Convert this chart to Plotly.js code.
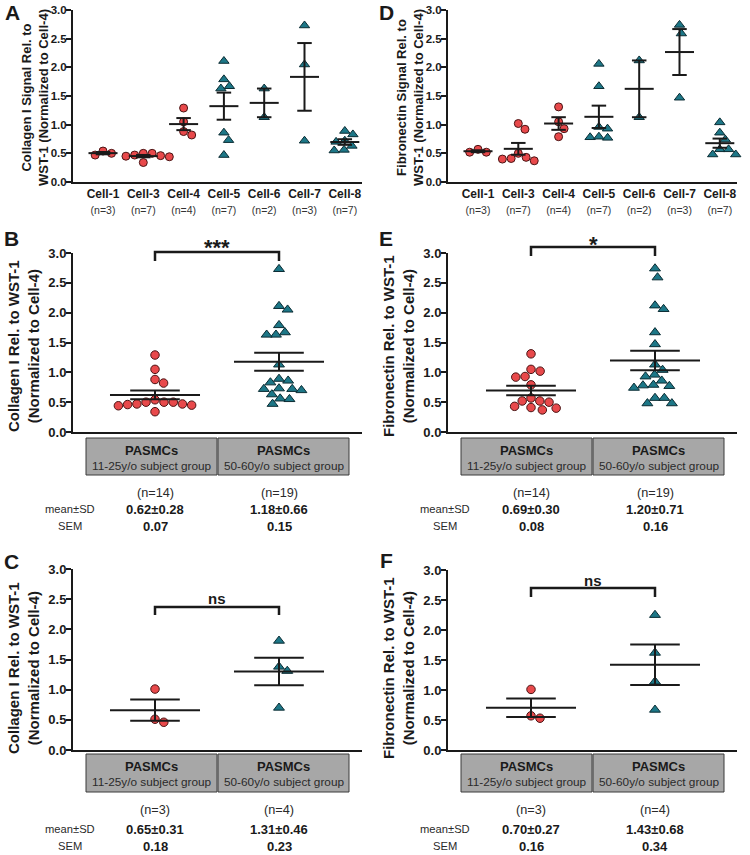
<!DOCTYPE html>
<html><head><meta charset="utf-8">
<script src="https://cdn.plot.ly/plotly-3.0.1.min.js"></script>
<style>body{margin:0;background:#fff}#chart{width:750px;height:855px}</style>
</head><body><div id="chart"></div>
<script>
// ---------------- DATA ----------------
const cellLabels = ['Cell-1','Cell-3','Cell-4','Cell-5','Cell-6','Cell-7','Cell-8'];
const cellN = ['(n=3)','(n=7)','(n=4)','(n=7)','(n=2)','(n=3)','(n=7)'];
const youngCount = 3; // Cell-1, Cell-3, Cell-4 -> 11-25y/o group
// Collagen I (panel A)
const colCell1 = [0.54, 0.47, 0.50];
const colCell3 = [0.50, 0.47, 0.34, 0.44, 0.46, 0.50, 0.45];
const colCell4 = [1.29, 1.05, 0.82, 0.88];
const colCell5 = [2.11, 1.79, 1.63, 1.67, 0.86, 0.73, 0.47];
const colCell6 = [1.63, 1.13];
const colCell7 = [2.73, 2.05, 0.72];
const colCell8 = [0.89, 0.83, 0.72, 0.70, 0.63, 0.56, 0.55];
// Fibronectin (panel D)
const fibCell1 = [0.57, 0.52, 0.52];
const fibCell3 = [1.02, 0.92, 0.50, 0.43, 0.37, 0.40, 0.41];
const fibCell4 = [1.31, 1.05, 0.93, 0.79];
const fibCell5 = [2.06, 1.67, 0.96, 0.93, 0.78, 0.77, 0.79];
const fibCell6 = [2.12, 1.13];
const fibCell7 = [2.74, 2.59, 1.47];
const fibCell8 = [1.04, 0.86, 0.74, 0.57, 0.57, 0.48, 0.48];
// Per-cell-line values (panels C, F)
const colLineYoung = [1.01, 0.46, 0.51];
const colLineOld = [1.81, 1.38, 1.31, 0.70];
const fibLineYoung = [1.01, 0.53, 0.57];
const fibLineOld = [2.25, 1.62, 1.14, 0.67];
// Group labels and stats text
const groupTitle = ['PASMCs','PASMCs'];
const groupSub = ['11-25y/o subject group','50-60y/o subject group'];
const bN = ['(n=14)','(n=19)'], bMeanSD = ['0.62±0.28','1.18±0.66'], bSEM = ['0.07','0.15'];
const eN = ['(n=14)','(n=19)'], eMeanSD = ['0.69±0.30','1.20±0.71'], eSEM = ['0.08','0.16'];
const cN = ['(n=3)','(n=4)'], cMeanSD = ['0.65±0.31','1.31±0.46'], cSEM = ['0.18','0.23'];
const fN = ['(n=3)','(n=4)'], fMeanSD = ['0.70±0.27','1.43±0.68'], fSEM = ['0.16','0.34'];
const sigB = '***', sigE = '*', sigC = 'ns', sigF = 'ns';
const yTickVals = [0,0.5,1,1.5,2,2.5,3];
const titleA = 'Collagen I Signal Rel. to<br>WST-1 (Normalized to Cell-4)';
const titleD = 'Fibronectin Signal Rel. to<br>WST-1 (Normalized to Cell-4)';
const titleCol = 'Collagen I Rel. to WST-1<br>(Normalized to Cell-4)';
const titleFib = 'Fibronectin Rel. to WST-1<br>(Normalized to Cell-4)';

// ---------------- HELPERS ----------------
const W = 750, H = 855;
const px = x => x / W, py = y => 1 - y / H;
const FONT = '"Liberation Sans", Arial, sans-serif';
const INK = '#1a1a1a', GREY_TXT = '#2a2a2a';
const RED = '#e8494b', RED_LINE = '#4a1515';
const TEAL = '#1d7787', TEAL_LINE = '#0b2c33';

const collagen = [colCell1,colCell3,colCell4,colCell5,colCell6,colCell7,colCell8];
const fibro = [fibCell1,fibCell3,fibCell4,fibCell5,fibCell6,fibCell7,fibCell8];

function mean(a){return a.reduce((s,v)=>s+v,0)/a.length;}
function sem(a){const m=mean(a);const sd=Math.sqrt(a.reduce((s,v)=>s+(v-m)*(v-m),0)/(a.length-1));return sd/Math.sqrt(a.length);}

function swarm(vals, center, pxX, pxY, d){
  const idx = vals.map((v,i)=>i).sort((a,b)=>vals[b]-vals[a]);
  const placed=[]; const out=new Array(vals.length);
  idx.forEach(i=>{
    const yp = vals[i]*pxY;
    const cands=[0];
    placed.forEach(p=>{const dy=Math.abs(p.y-yp); if(dy<d){const dx=Math.sqrt(d*d-dy*dy); cands.push(p.x+dx, p.x-dx);}});
    cands.sort((a,b)=>Math.abs(a)-Math.abs(b));
    let chosen=0;
    for(const c of cands){ if(placed.every(p=>Math.hypot(p.x-c,p.y-yp)>=d-0.01)){chosen=c;break;} }
    placed.push({x:chosen,y:yp}); out[i]=center+chosen/pxX;
  });
  return out;
}

// geometry (pixels)
const P = {
  A:{n:'',  xd:[73,362],  yd:[10,182],  c0:103, step:40.3},
  D:{n:'2', xd:[448,737], yd:[10,182],  c0:478, step:40.3},
  B:{n:'3', xd:[73,362],  yd:[253,432], c0:155, step:124},
  E:{n:'4', xd:[448,737], yd:[253,432], c0:531, step:124},
  C:{n:'5', xd:[73,362],  yd:[569,750], c0:155, step:124},
  F:{n:'6', xd:[448,737], yd:[570,750], c0:531, step:124}
};
for(const k in P){const p=P[k]; p.xr=[(p.xd[0]-p.c0)/p.step,(p.xd[1]-p.c0)/p.step]; p.pxY=(p.yd[1]-p.yd[0])/3;}

const traces=[];
const layout = {
  width:W, height:H, margin:{l:0,r:0,t:0,b:0}, showlegend:false,
  paper_bgcolor:'#fff', plot_bgcolor:'rgba(0,0,0,0)',
  font:{family:FONT, color:INK}, shapes:[], annotations:[]
};

function ann(text, x, y, size, bold, opts){
  layout.annotations.push(Object.assign({xref:'paper', yref:'paper', x:px(x), y:py(y), text:text, showarrow:false,
    xanchor:'center', yanchor:'middle', font:{size:size, family:FONT, color:INK, weight: bold?'bold':'normal'}}, opts||{}));
}

function addGroup(panel, vals, center, young, size, halfMean, halfCap){
  const p = P[panel];
  const xa='x'+p.n, ya='y'+p.n;
  const xs = swarm(vals, center, p.step, p.pxY, size+0.8);
  traces.push({type:'scatter', mode:'markers', x:xs, y:vals, xaxis:xa, yaxis:ya, cliponaxis:false, hoverinfo:'y',
    marker:{symbol: young?'circle':'triangle-up', size: young?size:size+1, color: young?RED:TEAL,
      line:{color: young?RED_LINE:TEAL_LINE, width:1}}});
  const m=mean(vals), s=sem(vals);
  traces.push({type:'scatter', mode:'lines', xaxis:xa, yaxis:ya, cliponaxis:false, hoverinfo:'skip',
    x:[center-halfMean,center+halfMean,null,center-halfCap,center+halfCap,null,center,center,null,center-halfCap,center+halfCap],
    y:[m,m,null,m+s,m+s,null,m+s,m-s,null,m-s,m-s],
    line:{color:INK, width:2}});
}

function setAxes(panel, tickvals, ticktext, xTickSize, yTickSize, title, titleSize, titleX, titleY){
  const p=P[panel];
  const xk='xaxis'+p.n, yk='yaxis'+p.n;
  layout[xk]={domain:[px(p.xd[0]),px(p.xd[1])], range:p.xr, anchor:'y'+p.n,
    showgrid:false, zeroline:false, showline:true, linecolor:INK, linewidth:2, ticks:'',
    tickvals:tickvals, ticktext:ticktext, showticklabels: !!ticktext,
    tickfont:{size:xTickSize, color:INK, family:FONT}, fixedrange:true};
  layout[yk]={domain:[py(p.yd[1]),py(p.yd[0])], range:[0,3], anchor:'x'+p.n,
    showgrid:false, zeroline:false, showline:true, linecolor:INK, linewidth:2,
    ticks:'outside', ticklen:5, tickwidth:2, tickcolor:INK, tickvals:yTickVals, tickformat:'.1f',
    tickfont:{size:yTickSize, color:INK, family:FONT, weight:'bold'}, ticklabelstandoff:-3,
    automargin:false, fixedrange:true};
  ann(title, titleX, titleY, titleSize, true, {textangle:-90});
}

// ----- Panels A & D -----
const cellTickText = cellLabels.map((c,i)=>'<b>'+c+'</b><br><span style="font-size:10.5px;color:#333">'+cellN[i]+'</span>');
const cellIdx = cellLabels.map((c,i)=>i);
setAxes('A', cellIdx, cellTickText, 12, 11.5, titleA, 13, 35, 98);
setAxes('D', cellIdx, cellTickText, 12, 11.5, titleD, 13, 410, 98);
collagen.forEach((v,i)=>addGroup('A', v, i, i<youngCount, 8, 0.36, 0.18));
fibro.forEach((v,i)=>addGroup('D', v, i, i<youngCount, 8, 0.36, 0.18));

// ----- Panels B & E -----
const colYoungAll = [].concat(...collagen.slice(0,youngCount));
const colOldAll = [].concat(...collagen.slice(youngCount));
const fibYoungAll = [].concat(...fibro.slice(0,youngCount));
const fibOldAll = [].concat(...fibro.slice(youngCount));
setAxes('B', [0,1], null, 12, 13, titleCol, 15, 23, 346);
setAxes('E', [0,1], null, 12, 13, titleFib, 15, 398, 346);
addGroup('B', colYoungAll, 0, true, 8.5, 0.363, 0.2);
addGroup('B', colOldAll, 1, false, 8.5, 0.363, 0.2);
addGroup('E', fibYoungAll, 0, true, 8.5, 0.363, 0.2);
addGroup('E', fibOldAll, 1, false, 8.5, 0.363, 0.2);

// ----- Panels C & F -----
setAxes('C', [0,1], null, 12, 13, titleCol, 15, 23, 668);
setAxes('F', [0,1], null, 12, 13, titleFib, 15, 398, 668);
addGroup('C', colLineYoung, 0, true, 8.5, 0.363, 0.2);
addGroup('C', colLineOld, 1, false, 8.5, 0.363, 0.2);
addGroup('F', fibLineYoung, 0, true, 8.5, 0.363, 0.2);
addGroup('F', fibLineOld, 1, false, 8.5, 0.363, 0.2);

// ----- decorations -----
ann('A', 12, 12, 21, true); ann('D', 386, 12, 21, true);
ann('B', 11, 238, 21, true); ann('E', 386, 238, 21, true);
ann('C', 11, 561, 21, true); ann('F', 386, 560, 21, true);

function groupBlock(panel, boxTop, boxBot, nY, msY, semY, nT, msT, semT){
  const p=P[panel]; const off = p.xd[0]-73;
  const boxes=[[86,217],[218,349]];
  boxes.forEach((b,i)=>{
    layout.shapes.push({type:'rect', xref:'paper', yref:'paper', x0:px(b[0]+off), x1:px(b[1]+off), y0:py(boxBot), y1:py(boxTop),
      fillcolor:'#a7a7a7', line:{color:'#3a3a3a', width:1}, layer:'below'});
    const cx=(b[0]+b[1])/2+off;
    ann(groupTitle[i], cx, boxTop+12.5, 13, true);
    ann(groupSub[i], cx, boxTop+28, 11.8, false, {font:{size:11.8,family:FONT,color:GREY_TXT}});
    const gx = p.c0 + i*p.step;
    ann(nT[i], gx, nY, 12.7, false, {font:{size:12.7,family:FONT,color:GREY_TXT}});
    ann(msT[i], gx, msY, 13, true);
    ann(semT[i], gx, semY, 13, true);
  });
  ann('mean±SD', 70+off, msY, 11.2, false, {font:{size:11.2,family:FONT,color:GREY_TXT}});
  ann('SEM', 70+off, semY, 11.2, false, {font:{size:11.2,family:FONT,color:GREY_TXT}});
}
groupBlock('B', 438, 475, 493, 509, 526, bN, bMeanSD, bSEM);
groupBlock('E', 438, 475, 493, 509, 526, eN, eMeanSD, eSEM);
groupBlock('C', 754, 792, 810, 829, 846, cN, cMeanSD, cSEM);
groupBlock('F', 754, 792, 810, 829, 846, fN, fMeanSD, fSEM);

function bracket(panel, topPx, endPx, textPx, text, size){
  const p=P[panel];
  const x0=p.c0, x1=p.c0+p.step;
  layout.shapes.push({type:'path', xref:'paper', yref:'paper',
    path:`M ${px(x0)} ${py(endPx)} L ${px(x0)} ${py(topPx)} L ${px(x1)} ${py(topPx)} L ${px(x1)} ${py(endPx)}`,
    line:{color:INK, width:2.5}});
  ann(text, (x0+x1)/2, textPx, size, true);
}
bracket('B', 252, 261, 248, sigB, 22);
bracket('E', 247, 256, 244, sigE, 22);
bracket('C', 607, 615, 598, sigC, 15);
bracket('F', 588, 597, 580, sigF, 15);

Plotly.newPlot('chart', traces, layout, {staticPlot:true});
</script>
</body></html>
